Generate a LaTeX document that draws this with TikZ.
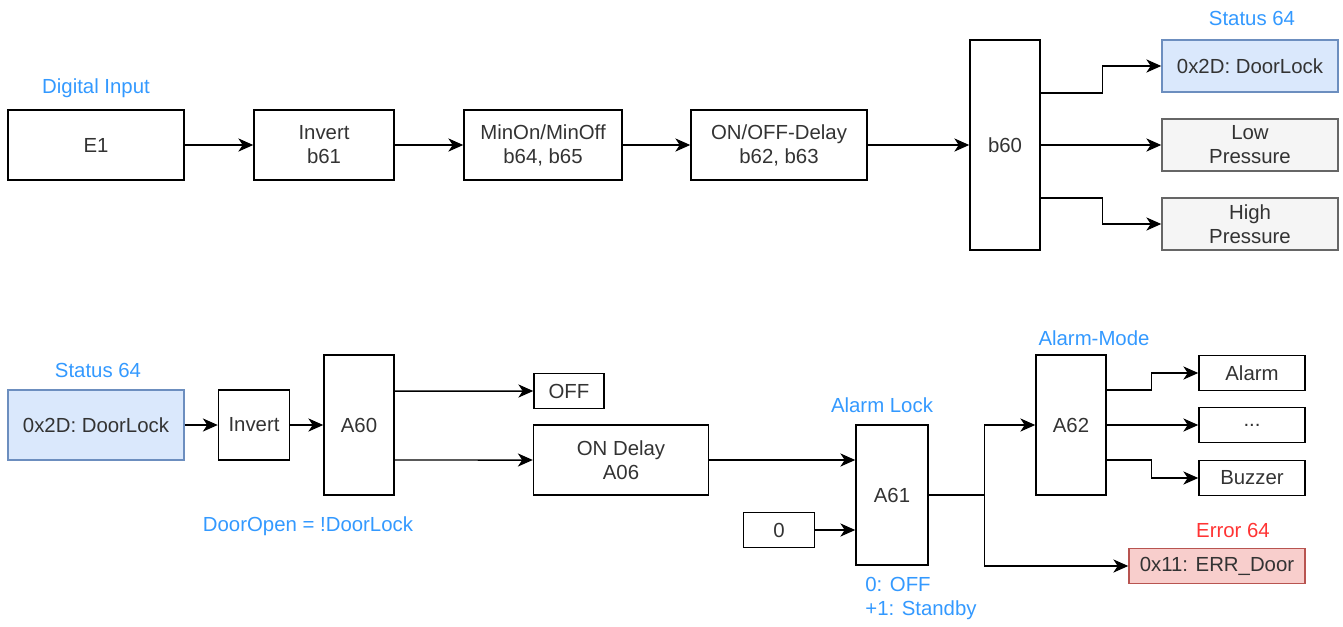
\documentclass[tikz,border=0pt]{standalone}
\usepackage{fontspec}
\setmainfont{Liberation Sans}
\usetikzlibrary{arrows.meta}
\definecolor{txtgray}{HTML}{333333}
\definecolor{lblblue}{HTML}{3399FF}
\definecolor{lblred}{HTML}{FF3333}
\definecolor{bluefill}{HTML}{DAE8FC}
\definecolor{bluedraw}{HTML}{6C8EBF}
\definecolor{grayfill}{HTML}{F5F5F5}
\definecolor{graydraw}{HTML}{666666}
\definecolor{redfill}{HTML}{F8CECC}
\definecolor{reddraw}{HTML}{B85450}
\tikzset{
  blk/.style={draw, line width=0.85pt, inner sep=0pt, align=center, text=txtgray,
    font=\fontsize{11.6}{13.6}\selectfont},
  stat/.style={blk, fill=bluefill, draw=bluedraw},
  flag/.style={blk, fill=grayfill, draw=graydraw},
  errbox/.style={blk, fill=redfill, draw=reddraw},
  lbl/.style={text=lblblue, inner sep=0pt, font=\fontsize{11.6}{13.6}\selectfont},
  arr/.style={line width=0.85pt, -{Stealth[length=8.5pt,width=7.5pt,inset=2.5pt]}},
}
\begin{document}
\begin{tikzpicture}[x=0.02cm,y=-0.02cm]
\useasboundingbox (0,0) rectangle (1343,626);
% top chain
\node[blk, minimum width=3.52cm, minimum height=1.4cm] (e1) at (96,145) {E1};
\node[lbl] (diglbl) at (96,88) {Digital Input};
\node[blk, minimum width=2.8cm, minimum height=1.4cm] (inv1) at (324,145) {Invert\\b61};
\node[blk, minimum width=3.16cm, minimum height=1.4cm] (minon) at (543,145) {MinOn/MinOff\\b64, b65};
\node[blk, minimum width=3.52cm, minimum height=1.4cm] (onoff) at (779,145) {ON/OFF-Delay\\b62, b63};
\node[blk, minimum width=1.4cm, minimum height=4.2cm] (b60) at (1005,145) {b60};
\node[stat, minimum width=3.52cm, minimum height=1.04cm] (dl1) at (1250,66) {0x2D: DoorLock};
\node[lbl] (stlbl1) at (1252,18) {Status 64};
\node[flag, minimum width=3.52cm, minimum height=1.04cm] (lp) at (1250,145) {Low\\Pressure};
\node[flag, minimum width=3.52cm, minimum height=1.04cm] (hp) at (1250,224) {High\\Pressure};
\draw[arr] (e1) -- (inv1);
\draw[arr] (inv1) -- (minon);
\draw[arr] (minon) -- (onoff);
\draw[arr] (onoff) -- (b60);
\draw[arr] ([yshift=1.04cm]b60.east) -- ++(62,0) |- (dl1);
\draw[arr] (b60) -- (lp);
\draw[arr] ([yshift=-1.06cm]b60.east) -- ++(62,0) |- (hp);
% bottom chain
\node[stat, minimum width=3.52cm, minimum height=1.4cm] (dl2) at (96,425) {0x2D: DoorLock};
\node[lbl] (stlbl2) at (98,370) {Status 64};
\node[blk, minimum width=1.42cm, minimum height=1.4cm] (inv2) at (254,425) {Invert};
\node[blk, minimum width=1.4cm, minimum height=2.8cm] (a60) at (359,425) {A60};
\node[lbl] (openlbl) at (308,526) {DoorOpen = !DoorLock};
\node[blk, minimum width=1.4cm, minimum height=0.7cm] (off) at (569,391) {OFF};
\node[blk, minimum width=3.5cm, minimum height=1.4cm] (ondelay) at (621,460) {ON Delay\\A06};
\node[blk, minimum width=1.42cm, minimum height=0.7cm] (zero) at (779,530) {0};
\node[blk, minimum width=1.44cm, minimum height=2.8cm] (a61) at (892,495) {A61};
\node[lbl] (locklbl) at (882,405) {Alarm Lock};
\node[lbl, align=left, anchor=north west] (modelbl) at (865,577) {0: OFF\\+1: Standby};
\node[blk, minimum width=1.4cm, minimum height=2.8cm] (a62) at (1071,425) {A62};
\node[lbl] (amlbl) at (1094,338) {Alarm-Mode};
\node[blk, minimum width=2.12cm, minimum height=0.7cm] (alarm) at (1252,373) {Alarm};
\node[blk, minimum width=2.12cm, minimum height=0.7cm] (dots) at (1252,425) {...};
\node[blk, minimum width=2.12cm, minimum height=0.7cm] (buzzer) at (1252,478) {Buzzer};
\node[errbox, minimum width=3.52cm, minimum height=0.7cm] (err) at (1217,566) {0x11: ERR\_Door};
\node[lbl, text=lblred] (errlbl) at (1233,530) {Error 64};
\draw[arr] (dl2) -- (inv2);
\draw[arr] (inv2) -- (a60);
\draw[arr] ([yshift=0.68cm]a60.east) -- (off);
\draw[arr] ([yshift=-0.7cm]a60.east) -- (ondelay);
\draw[arr] (ondelay.east) -- (ondelay.east -| a61.west);
\draw[arr] (zero) -- (zero -| a61.west);
\draw[line width=0.85pt] (a61.east) -- ++(56,0) coordinate (split);
\draw[arr] (split) |- (a62);
\draw[arr] (split) |- (err);
\draw[arr] ([yshift=0.7cm]a62.east) -- ++(45,0) |- (alarm);
\draw[arr] (a62) -- (dots);
\draw[arr] ([yshift=-0.7cm]a62.east) -- ++(45,0) |- (buzzer);
\end{tikzpicture}
\end{document}
